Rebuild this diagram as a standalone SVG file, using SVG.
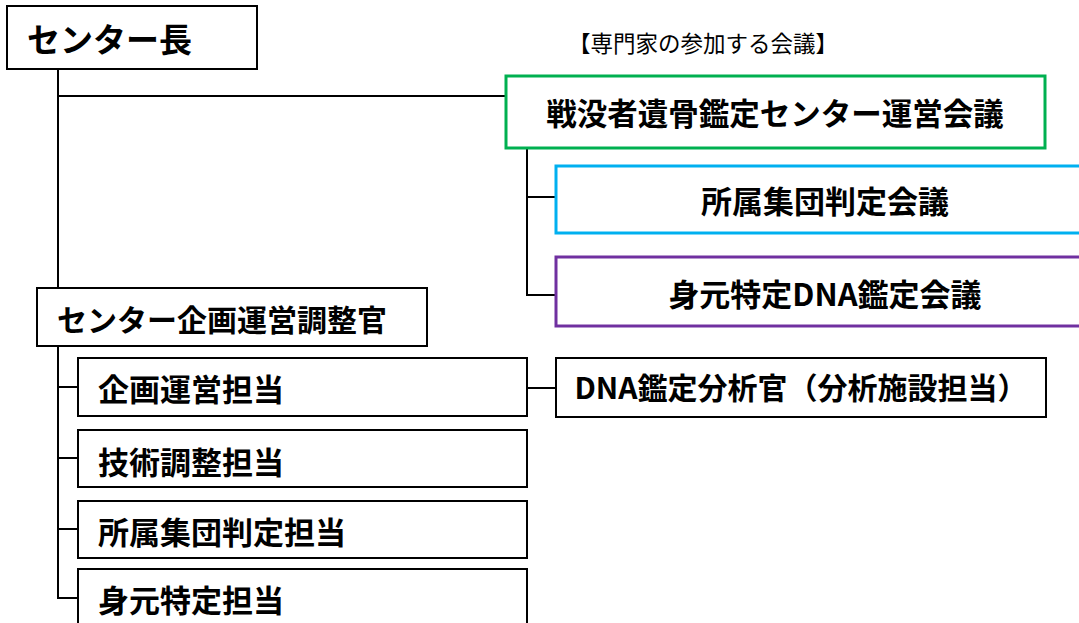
<svg xmlns="http://www.w3.org/2000/svg" width="1079" height="623" viewBox="0 0 1079 623">
<style>
.box{fill:#fff;stroke:#000;stroke-width:2}
.g{fill:#fff;stroke:#00B050;stroke-width:3}
.b{fill:#fff;stroke:#00B0F0;stroke-width:3}
.p{fill:#fff;stroke:#7030A0;stroke-width:3}
.t{font-family:"Noto Sans CJK JP","Liberation Sans",sans-serif;font-weight:bold;fill:#000}
.n{font-family:"Noto Sans CJK JP","Liberation Sans",sans-serif;font-weight:normal;fill:#000}
.c{fill:none;stroke:#000;stroke-width:2}
</style>
<rect width="1079" height="623" fill="#fff"/>
<g id="connectors">
<path class="c" d="M58 69V288M58 96H506"/>
<path class="c" d="M527 148V295H556M527 197H556"/>
<path class="c" d="M58 346V598H78M58 387H78M58 458H78M58 529H78"/>
<path class="c" d="M527 388H556"/>
</g>
<g id="center-head"><rect class="box" x="7" y="6" width="250" height="63"/><text class="t" x="27" y="52" font-size="33">センター長</text></g>
<g id="note"><text class="n" x="568" y="52" font-size="22.5">【専門家の参加する会議】</text></g>
<g id="operation-meeting"><rect class="g" x="506" y="76" width="539" height="72"/><text class="t" x="775" y="125" font-size="30.5" text-anchor="middle">戦没者遺骨鑑定センター運営会議</text></g>
<g id="group-meeting"><rect class="b" x="556" y="166" width="538" height="67"/><text class="t" x="825" y="213" font-size="31" text-anchor="middle">所属集団判定会議</text></g>
<g id="dna-meeting"><rect class="p" x="556" y="257" width="538" height="69"/><text class="t" x="825" y="306" font-size="31" text-anchor="middle">身元特定DNA鑑定会議</text></g>
<g id="coordinator"><rect class="box" x="37" y="288" width="390" height="58"/><text class="t" x="57" y="331" font-size="30">センター企画運営調整官</text></g>
<g id="planning"><rect class="box" x="78" y="358" width="449" height="58"/><text class="t" x="98" y="401" font-size="31">企画運営担当</text></g>
<g id="technical"><rect class="box" x="78" y="430" width="449" height="57"/><text class="t" x="98" y="474" font-size="31">技術調整担当</text></g>
<g id="group"><rect class="box" x="78" y="501" width="449" height="57"/><text class="t" x="98" y="544" font-size="31">所属集団判定担当</text></g>
<g id="identity"><rect class="box" x="78" y="569" width="449" height="60"/><text class="t" x="98" y="612" font-size="31">身元特定担当</text></g>
<g id="dna-analyst"><rect class="box" x="556" y="358" width="490" height="59"/><text class="t" x="801" y="399" font-size="30" text-anchor="middle">DNA鑑定分析官（分析施設担当）</text></g>
</svg>
